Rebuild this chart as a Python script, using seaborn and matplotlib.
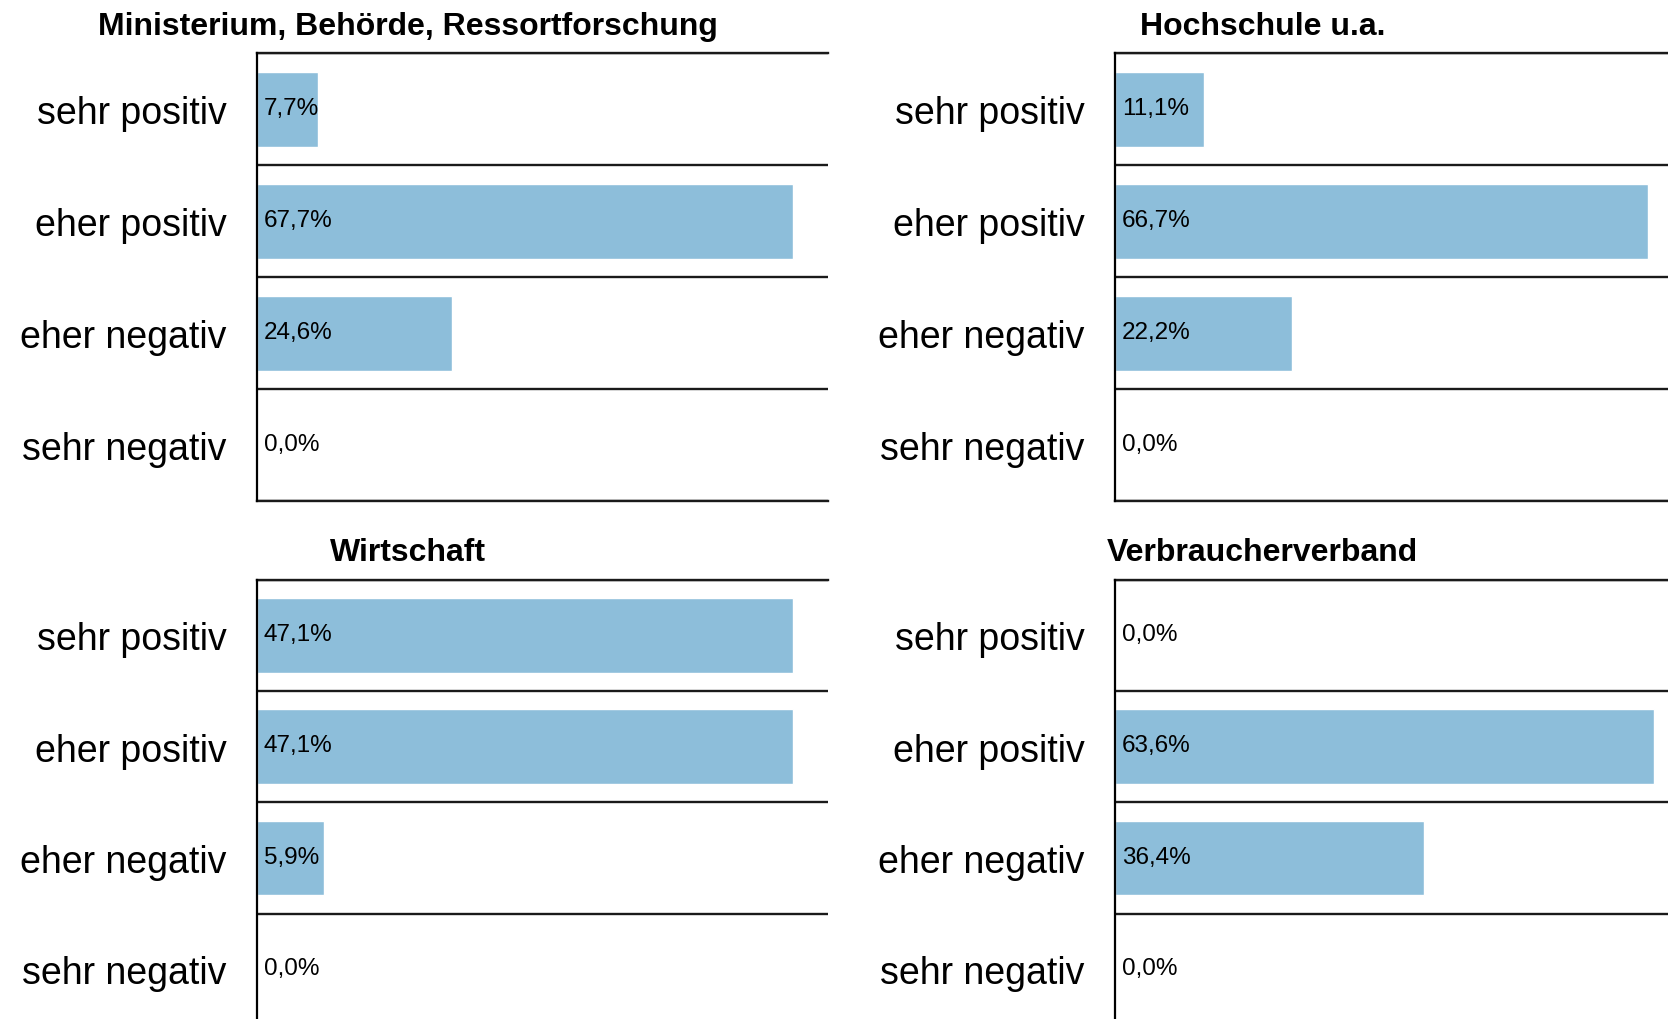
import matplotlib
matplotlib.use("Agg")
import matplotlib.pyplot as plt
import seaborn as sns

# Daten
kategorien = ["sehr positiv", "eher positiv", "eher negativ", "sehr negativ"]
ministerium = [7.7, 67.7, 24.6, 0.0]
hochschule = [11.1, 66.7, 22.2, 0.0]
wirtschaft = [47.1, 47.1, 5.9, 0.0]
verbraucher = [0.0, 63.6, 36.4, 0.0]
titel = ["Ministerium, Behörde, Ressortforschung", "Hochschule u.a.",
         "Wirtschaft", "Verbraucherverband"]

sns.set_style("white")
plt.rcParams['font.family'] = ['Liberation Sans', 'DejaVu Sans']
plt.rcParams['text.color'] = 'black'

farbe = "#8DBEDA"
linie = "#1a1a1a"

fig = plt.figure(figsize=(16.68, 10.2), dpi=100)

# Achsenpositionen [links, unten, breite, hoehe] in Figurenanteilen
positionen = [[0.1541, 0.5075, 0.3423, 0.4392],
              [0.6684, 0.5075, 0.3316, 0.4392],
              [0.1541, -0.006, 0.3423, 0.4366],
              [0.6684, -0.006, 0.3316, 0.4366]]
xmax = [72.1, 69.2, 50.2, 65.2]
titel_pos = [(0.2446, 0.974), (0.757, 0.974), (0.2446, 0.4575), (0.757, 0.4575)]

for k, werte in enumerate([ministerium, hochschule, wirtschaft, verbraucher]):
    ax = fig.add_axes(positionen[k])
    sns.barplot(x=werte, y=kategorien, ax=ax, color=farbe, saturation=1,
                width=0.67, orient="h")
    ax.set_xlim(0, xmax[k])
    ax.set_ylim(3.5, -0.5)
    ax.set_xticks([])
    ax.set_xlabel("")
    ax.set_ylabel("")
    # Trennlinien zwischen den Kategorien
    ax.set_yticks([-0.5, 0.5, 1.5, 2.5, 3.5], minor=True)
    ax.tick_params(axis="y", which="major", length=0, pad=22, labelsize=27,
                   labelcolor="black")
    ax.tick_params(axis="y", which="minor", length=9, width=1.7, color=linie)
    ax.grid(axis="y", which="minor", color=linie, linewidth=1.7)
    ax.grid(axis="x", visible=False)
    for s in ["top", "bottom"]:
        ax.spines[s].set_visible(True)
        ax.spines[s].set_color(linie)
        ax.spines[s].set_linewidth(1.7)
    ax.spines["right"].set_visible(False)
    ax.spines["left"].set_color("black")
    ax.spines["left"].set_linewidth(1.6)
    ax.spines["left"].set_zorder(5)
    # Werte im Balken
    for i, v in enumerate(werte):
        txt = f"{v:.1f}".replace(".", ",") + "%"
        ax.annotate(txt, xy=(0, i), xytext=(5, 1), textcoords="offset points",
                    va="center", ha="left", fontsize=17.5, color="black")
    fig.text(titel_pos[k][0], titel_pos[k][1], titel[k], ha="center", va="center",
             fontsize=23, fontweight="bold")

fig.savefig("out.png", dpi=100)
